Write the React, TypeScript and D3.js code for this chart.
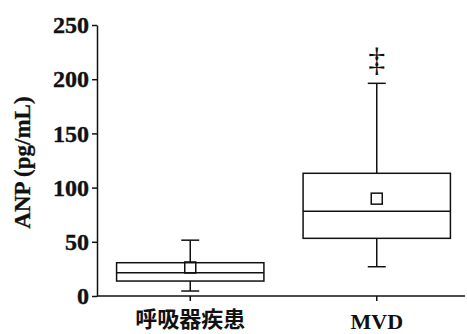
import { useEffect, useRef } from 'react';
import * as d3 from 'd3';

const categories = ['呼吸器疾患', 'MVD'];
const whiskerLow = [4.6, 27];
const q1 = [13.8, 53.2];
const median = [21.5, 78.1];
const q3 = [30.7, 113.2];
const whiskerHigh = [51.5, 196.2];
const means = [26.3, 89.8];
const markers = ['', '‡'];
const markerValue = [0, 217];
const yTicks = [0, 50, 100, 150, 200, 250];

const W = 467;
const H = 334;
const serif = '"Liberation Serif", "Times New Roman", serif';
const cjk = '"Noto Sans CJK JP", "Noto Sans CJK SC", sans-serif';
const ink = '#111';

const App = () => {
  const svgRef = useRef<SVGSVGElement>(null);

  useEffect(() => {
    document.body.style.margin = '0';
    if (!svgRef.current) return;
    const svg = d3.select(svgRef.current);
    svg.selectAll('*').remove();

    const left = 97;
    const bottom = 296;

    const x = d3.scaleBand<string>().domain(categories).range([left, 470]);
    const y = d3.scaleLinear().domain([0, 250]).range([bottom, 25]);
    const boxW = x.bandwidth() * 0.79;
    const capW = 18;

    // y axis
    const yAxis = svg.append('g')
      .attr('transform', `translate(${left},0)`)
      .call(d3.axisLeft(y).tickValues(yTicks).tickSize(5).tickPadding(3).tickSizeOuter(0));
    yAxis.select('.domain').attr('stroke', ink).attr('stroke-width', 1.5);
    yAxis.selectAll('.tick line').attr('stroke', ink).attr('stroke-width', 1.5);
    yAxis.selectAll('.tick text')
      .attr('fill', ink)
      .attr('stroke', ink)
      .attr('stroke-width', 0.4)
      .style('font-family', serif)
      .style('font-weight', 'bold')
      .style('font-size', '24px');

    // x axis
    const xAxis = svg.append('g')
      .attr('transform', `translate(0,${bottom})`)
      .call(d3.axisBottom(x).tickSize(5).tickSizeOuter(0));
    xAxis.select('.domain').attr('d', `M${left},0H465`).attr('stroke', ink).attr('stroke-width', 1.5);
    xAxis.selectAll('.tick line').attr('stroke', ink).attr('stroke-width', 1.5);
    xAxis.selectAll<SVGTextElement, string>('.tick text')
      .attr('fill', ink)
      .attr('y', d => (d === 'MVD' ? 33 : 31))
      .attr('dy', 0)
      .style('font-family', d => (d === 'MVD' ? serif : cjk))
      .style('font-weight', 'bold')
      .style('font-size', '22px');

    // y label
    svg.append('text')
      .attr('transform', `translate(30,${(y(0) + y(250)) / 2 + 2}) rotate(-90)`)
      .attr('text-anchor', 'middle')
      .attr('fill', ink)
      .attr('stroke', ink)
      .attr('stroke-width', 0.3)
      .style('font-family', serif)
      .style('font-weight', 'bold')
      .style('font-size', '23px')
      .text('ANP (pg/mL)');

    const g = svg.append('g').attr('fill', 'none').attr('stroke', ink).attr('stroke-width', 1.5);

    categories.forEach((c, i) => {
      const cx = (x(c) ?? 0) + x.bandwidth() / 2;
      // whiskers
      g.append('line').attr('x1', cx).attr('x2', cx).attr('y1', y(q3[i])).attr('y2', y(whiskerHigh[i]));
      g.append('line').attr('x1', cx).attr('x2', cx).attr('y1', y(q1[i])).attr('y2', y(whiskerLow[i]));
      g.append('line').attr('x1', cx - capW / 2).attr('x2', cx + capW / 2).attr('y1', y(whiskerHigh[i])).attr('y2', y(whiskerHigh[i]));
      g.append('line').attr('x1', cx - capW / 2).attr('x2', cx + capW / 2).attr('y1', y(whiskerLow[i])).attr('y2', y(whiskerLow[i]));
      // box
      g.append('rect')
        .attr('x', cx - boxW / 2)
        .attr('y', y(q3[i]))
        .attr('width', boxW)
        .attr('height', y(q1[i]) - y(q3[i]))
        .attr('fill', 'white');
      g.append('line').attr('x1', cx - boxW / 2).attr('x2', cx + boxW / 2).attr('y1', y(median[i])).attr('y2', y(median[i]));
      // mean
      g.append('rect')
        .attr('x', cx - 5.5)
        .attr('y', y(means[i]) - 5.5)
        .attr('width', 11)
        .attr('height', 11);
      if (markers[i]) {
        svg.append('text')
          .attr('x', cx)
          .attr('y', y(markerValue[i]))
          .attr('dy', '0.3em')
          .attr('text-anchor', 'middle')
          .attr('fill', ink)
          .style('font-family', serif)
          .style('font-size', '34px')
          .text(markers[i]);
      }
    });
  }, []);

  return <svg ref={svgRef} width={W} height={H} style={{ display: 'block', background: 'white' }} />;
};

export default App;
